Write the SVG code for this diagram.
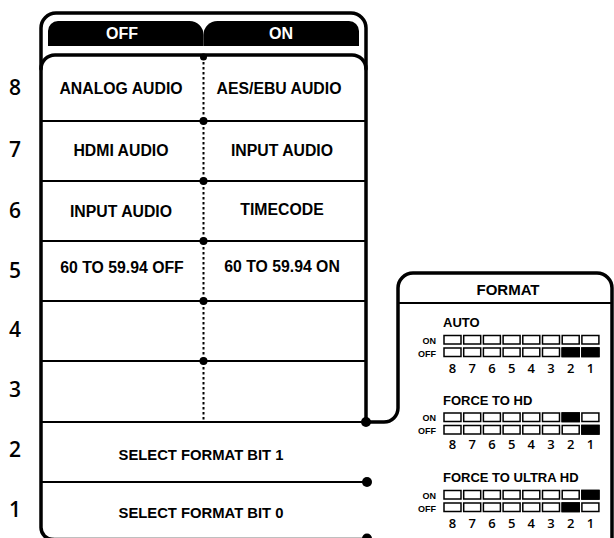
<svg xmlns="http://www.w3.org/2000/svg" width="614" height="538" viewBox="0 0 614 538">
<style>
.frame{fill:none;stroke:#000;stroke-width:3.5;stroke-linecap:round;stroke-linejoin:round}
.row{fill:none;stroke:#000;stroke-width:2}
.dots{fill:none;stroke:#000;stroke-width:2;stroke-dasharray:2.5 2.5}
.lbl{font-family:"Liberation Sans",Arial,sans-serif;font-weight:bold;font-size:15.8px;fill:#000;text-anchor:middle}
.lbl2{font-family:"Liberation Sans",Arial,sans-serif;font-weight:bold;font-size:14.8px;fill:#000;text-anchor:middle}
.num{font-family:"Open Sans","Liberation Sans",sans-serif;font-weight:600;font-size:21px;fill:#000;text-anchor:middle}
.hdr{font-family:"Liberation Sans",Arial,sans-serif;font-weight:bold;font-size:16px;fill:#fff;text-anchor:middle}
.fmt{font-family:"Liberation Sans",Arial,sans-serif;font-weight:bold;font-size:15px;fill:#000;text-anchor:middle}
.sub{font-family:"Liberation Sans",Arial,sans-serif;font-weight:bold;font-size:13px;fill:#000}
.onoff{font-family:"Liberation Sans",Arial,sans-serif;font-weight:bold;font-size:9px;fill:#000;text-anchor:end}
.bn{font-family:"Open Sans","Liberation Sans",sans-serif;font-weight:600;font-size:13px;fill:#000;text-anchor:middle}
.b{fill:#fff;stroke:#000;stroke-width:1.5}
.f{fill:#000;stroke:#000;stroke-width:1.5}
</style>
<defs>
<g id="sw">
<rect class="b" x="444" y="0" width="17" height="8.5"/><rect class="b" x="463.7" y="0" width="17" height="8.5"/><rect class="b" x="483.4" y="0" width="17" height="8.5"/><rect class="b" x="503.1" y="0" width="17" height="8.5"/><rect class="b" x="522.8" y="0" width="17" height="8.5"/><rect class="b" x="542.5" y="0" width="17" height="8.5"/><rect class="b" x="562.2" y="0" width="17" height="8.5"/><rect class="b" x="581.9" y="0" width="17" height="8.5"/>
</g>
<g id="nums">
<text class="bn" x="452.5">8</text><text class="bn" x="472.2">7</text><text class="bn" x="491.9">6</text><text class="bn" x="511.6">5</text><text class="bn" x="531.3">4</text><text class="bn" x="551">3</text><text class="bn" x="570.7">2</text><text class="bn" x="590.4">1</text>
</g>
</defs>

<g id="switch-panel">
<path class="frame" d="M53 539.5 A12 12 0 0 1 41 527.5 V28 A15 15 0 0 1 56 13 H351 A15 15 0 0 1 366 28 V422"/>
<path class="frame" d="M53 539.5 H367"/>
<path class="frame" stroke-width="3" d="M41 69 A14 14 0 0 1 55 55 H352 A14 14 0 0 1 366 69"/>
<path id="tab-off" fill="#000" d="M48 46 V31 A10 10 0 0 1 58 21 H189.5 A14 14 0 0 1 203.5 35 V46 Z"/>
<path id="tab-on" fill="#000" d="M203.5 46 V35 A14 14 0 0 1 217.5 21 H349 A10 10 0 0 1 359 31 V46 Z"/>
<text class="hdr" x="122" y="39">OFF</text>
<text class="hdr" x="281" y="39">ON</text>
</g>

<g id="connectors">
<line class="row" x1="41" y1="121" x2="366" y2="121"/>
<line class="row" x1="41" y1="181" x2="366" y2="181"/>
<line class="row" x1="41" y1="241" x2="366" y2="241"/>
<line class="row" x1="41" y1="301" x2="366" y2="301"/>
<line class="row" x1="41" y1="361" x2="366" y2="361"/>
<line class="row" x1="41" y1="422" x2="366" y2="422"/>
<line class="row" stroke-width="2.5" x1="41" y1="482" x2="367" y2="482"/>
<line class="dots" x1="203.5" y1="57" x2="203.5" y2="420"/>
<circle cx="203.5" cy="57" r="3.5"/>
<circle cx="203.5" cy="121" r="4"/>
<circle cx="203.5" cy="181" r="4"/>
<circle cx="203.5" cy="241" r="4"/>
<circle cx="203.5" cy="301" r="4"/>
<circle cx="203.5" cy="361" r="4"/>
<circle cx="366" cy="422" r="5"/>
<circle cx="367" cy="482" r="5"/>
<circle cx="367" cy="538.5" r="5"/>
<path class="frame" d="M366 422 H384 A14 14 0 0 0 398 408 V288 A15 15 0 0 1 413 273 H597 A15 15 0 0 1 612 288 V545"/>
</g>

<g id="row-8"><text class="num" x="15" y="95">8</text><text class="lbl" x="121" y="94">ANALOG AUDIO</text><text class="lbl" x="279" y="94">AES/EBU AUDIO</text></g>
<g id="row-7"><text class="num" x="15" y="157">7</text><text class="lbl" x="121" y="156">HDMI AUDIO</text><text class="lbl" x="282" y="156">INPUT AUDIO</text></g>
<g id="row-6"><text class="num" x="15" y="218">6</text><text class="lbl" x="121" y="217">INPUT AUDIO</text><text class="lbl" x="282" y="215">TIMECODE</text></g>
<g id="row-5"><text class="num" x="15" y="278">5</text><text class="lbl" x="122" y="273">60 TO 59.94 OFF</text><text class="lbl" x="282" y="272">60 TO 59.94 ON</text></g>
<g id="row-4"><text class="num" x="15" y="337">4</text></g>
<g id="row-3"><text class="num" x="15" y="397">3</text></g>
<g id="row-2"><text class="num" x="15" y="457">2</text><text class="lbl2" x="201" y="460">SELECT FORMAT BIT 1</text></g>
<g id="row-1"><text class="num" x="15" y="517">1</text><text class="lbl2" x="201" y="518">SELECT FORMAT BIT 0</text></g>

<g id="format-panel">
<line class="row" x1="398" y1="303" x2="612" y2="303"/>
<text class="fmt" x="508" y="295">FORMAT</text>

<g id="auto">
<text class="sub" x="443" y="327">AUTO</text>
<text class="onoff" x="436" y="343.5">ON</text>
<text class="onoff" x="436" y="356.5">OFF</text>
<use href="#sw" y="335.5"/>
<use href="#sw" y="348"/>
<rect class="f" x="562.2" y="348" width="17" height="8.5"/>
<rect class="f" x="581.9" y="348" width="17" height="8.5"/>
<use href="#nums" y="372.5"/>
</g>

<g id="force-hd">
<text class="sub" x="443" y="404.5">FORCE TO HD</text>
<text class="onoff" x="436" y="421">ON</text>
<text class="onoff" x="436" y="434">OFF</text>
<use href="#sw" y="413"/>
<use href="#sw" y="425.5"/>
<rect class="f" x="562.2" y="413" width="17" height="8.5"/>
<rect class="f" x="581.9" y="425.5" width="17" height="8.5"/>
<use href="#nums" y="449"/>
</g>

<g id="force-uhd">
<text class="sub" x="443" y="482">FORCE TO ULTRA HD</text>
<text class="onoff" x="436" y="498.5">ON</text>
<text class="onoff" x="436" y="511.5">OFF</text>
<use href="#sw" y="490.5"/>
<use href="#sw" y="503"/>
<rect class="f" x="581.9" y="490.5" width="17" height="8.5"/>
<rect class="f" x="562.2" y="503" width="17" height="8.5"/>
<use href="#nums" y="527.5"/>
</g>
</g>
</svg>
